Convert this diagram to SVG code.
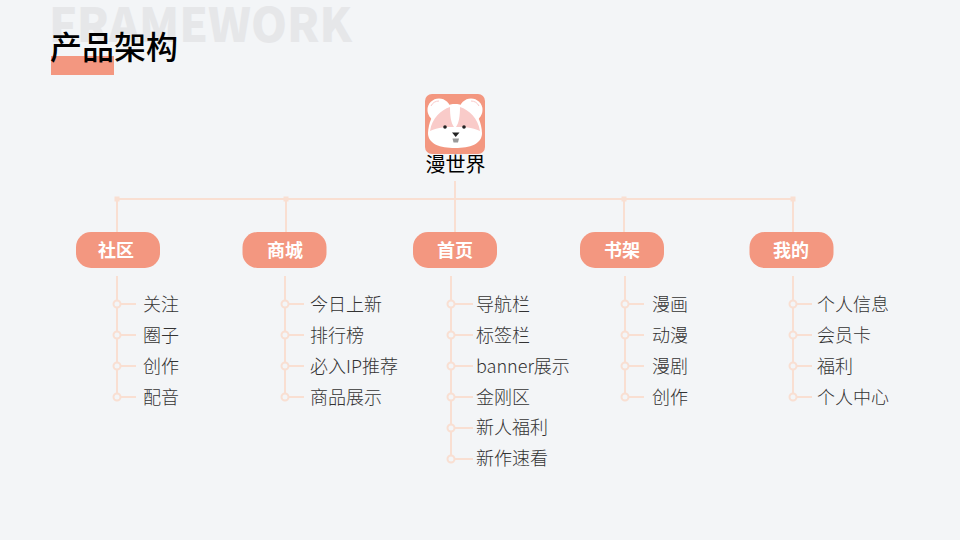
<svg xmlns="http://www.w3.org/2000/svg" width="960" height="540" viewBox="0 0 960 540">
<style>
text{font-family:"Noto Sans CJK SC","Noto Sans",sans-serif}
.l{fill:none;stroke:#f9dfd2;stroke-width:2}
.d{fill:#f3f5f7;stroke:#f9dfd2;stroke-width:2}
.j{fill:#f9dfd2}
.t{font-size:18px;fill:#333;font-weight:300}
.p{fill:#f39780}
.h{font-size:18px;fill:#fff;font-weight:700;text-anchor:middle}
</style>
<rect width="960" height="540" fill="#f3f5f7"/>
<text x="49" y="42" font-size="47" font-weight="900" fill="#e6e7e9" textLength="303" lengthAdjust="spacingAndGlyphs">FRAMEWORK</text>
<rect x="51" y="56" width="63" height="19" class="p"/>
<text x="50" y="59" font-size="32" font-weight="500" fill="#000">产品架构</text>
<g id="connectors">
<path class="l" d="M117 199H793M455 181V232M117 199V232M286 199V232M624 199V232M793 199V232"/>
<path class="j" d="M114.500 196.500h5v5h-5zM283.500 196.500h5v5h-5zM621.500 196.500h5v5h-5zM790.500 196.500h5v5h-5z"/>
<path class="l" d="M117 276V397M117 304H136M117 335H136M117 366H136M117 397H136"/>
<path class="l" d="M285 276V397M285 304H304M285 335H304M285 366H304M285 397H304"/>
<path class="l" d="M451 276V459M451 304H473M451 335H473M451 366H473M451 397H473M451 428H473M451 459H473"/>
<path class="l" d="M625 276V397M625 304H644M625 335H644M625 366H644M625 397H644"/>
<path class="l" d="M793 276V397M793 304H812M793 335H812M793 366H812M793 397H812"/>
<g id="dots">
<circle class="d" cx="117" cy="304" r="3.500"/><circle class="d" cx="117" cy="335" r="3.500"/><circle class="d" cx="117" cy="366" r="3.500"/><circle class="d" cx="117" cy="397" r="3.500"/>
<circle class="d" cx="285" cy="304" r="3.500"/><circle class="d" cx="285" cy="335" r="3.500"/><circle class="d" cx="285" cy="366" r="3.500"/><circle class="d" cx="285" cy="397" r="3.500"/>
<circle class="d" cx="451" cy="304" r="3.500"/><circle class="d" cx="451" cy="335" r="3.500"/><circle class="d" cx="451" cy="366" r="3.500"/><circle class="d" cx="451" cy="397" r="3.500"/><circle class="d" cx="451" cy="428" r="3.500"/><circle class="d" cx="451" cy="459" r="3.500"/>
<circle class="d" cx="625" cy="304" r="3.500"/><circle class="d" cx="625" cy="335" r="3.500"/><circle class="d" cx="625" cy="366" r="3.500"/><circle class="d" cx="625" cy="397" r="3.500"/>
<circle class="d" cx="793" cy="304" r="3.500"/><circle class="d" cx="793" cy="335" r="3.500"/><circle class="d" cx="793" cy="366" r="3.500"/><circle class="d" cx="793" cy="397" r="3.500"/>
</g>
</g>
<g id="root">
<rect x="425" y="94" width="60" height="60" rx="7" class="p"/>
<circle cx="439" cy="110" r="11.500" fill="#fff"/><circle cx="471" cy="110" r="11.500" fill="#fff"/>
<path d="M431 106A9 9 0 0 1 439 101" fill="none" stroke="#f9cbc9"/>
<path d="M479 106A9 9 0 0 0 471 101" fill="none" stroke="#f9cbc9"/>
<path d="M428 133C429 112 443 104 455 104C467 104 481 112 482 133C482 144 470 148 455 148C440 148 428 144 428 133Z" fill="#fff"/>
<path d="M430 131C432 118 441 110 450 107C450 116 451 123 454 127C447 127 438 127 430 131Z" fill="#f9cbc9"/>
<path d="M480 131C478 118 469 110 460 107C460 116 459 123 456 127C463 127 472 127 480 131Z" fill="#f9cbc9"/>
<circle cx="445" cy="127" r="1.800" fill="#222"/><circle cx="464" cy="127" r="1.800" fill="#222"/>
<path d="M452 132.500H459.500L455.700 137Z" fill="#222"/><path d="M452.500 138.500H459L458 142.500H453.500Z" fill="#999"/>
<text x="455.500" y="172" font-size="20" font-weight="400" fill="#000" text-anchor="middle">漫世界</text>
</g>
<g id="n1"><rect x="76" y="232" width="84" height="36" rx="15" class="p"/><text class="h" x="116" y="257">社区</text>
<text class="t" x="143" y="311">关注</text><text class="t" x="143" y="342">圈子</text><text class="t" x="143" y="373">创作</text><text class="t" x="143" y="404">配音</text></g>
<g id="n2"><rect x="242.500" y="232" width="84" height="36" rx="15" class="p"/><text class="h" x="285" y="257">商城</text>
<text class="t" x="310" y="311">今日上新</text><text class="t" x="310" y="342">排行榜</text><text class="t" x="310" y="373">必入IP推荐</text><text class="t" x="310" y="404">商品展示</text></g>
<g id="n3"><rect x="413" y="232" width="84" height="36" rx="15" class="p"/><text class="h" x="455" y="257">首页</text>
<text class="t" x="476" y="311">导航栏</text><text class="t" x="476" y="342">标签栏</text><text class="t" x="476" y="373">banner展示</text><text class="t" x="476" y="404">金刚区</text><text class="t" x="476" y="434">新人福利</text><text class="t" x="476" y="465">新作速看</text></g>
<g id="n4"><rect x="580" y="232" width="84" height="36" rx="15" class="p"/><text class="h" x="622" y="257">书架</text>
<text class="t" x="652" y="311">漫画</text><text class="t" x="652" y="342">动漫</text><text class="t" x="652" y="373">漫剧</text><text class="t" x="652" y="404">创作</text></g>
<g id="n5"><rect x="749.500" y="232" width="84" height="36" rx="15" class="p"/><text class="h" x="791" y="257">我的</text>
<text class="t" x="817" y="311">个人信息</text><text class="t" x="817" y="342">会员卡</text><text class="t" x="817" y="373">福利</text><text class="t" x="817" y="404">个人中心</text></g>
</svg>
